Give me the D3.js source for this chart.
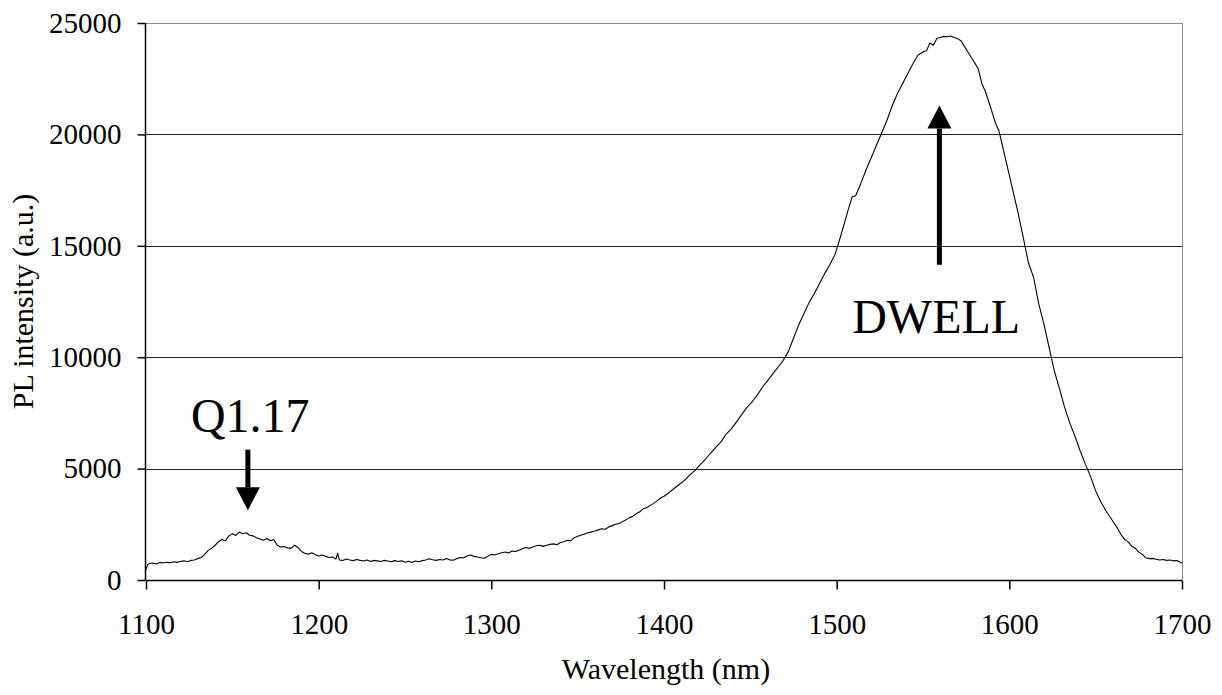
<!DOCTYPE html>
<html>
<head>
<meta charset="utf-8">
<script src="https://cdn.jsdelivr.net/npm/d3@7/dist/d3.min.js"></script>
</head>
<body style="margin:0">
<svg id="chart" width="1222" height="695" font-family="'Liberation Serif'"></svg>
<script>
// ---- data ----
const wavelength = [
  1100,1101,1102,1104,1106,1108,1110,1112,1114,1116,1118,1120,1122,1124,1126,1128,1130,1132,1134,1136,
  1138,1140,1142,1144,1146,1148,1150,1152,1154,1156,1158,1160,1162,1164,1166,1168,1170,1172,1174,1176,
  1178,1180,1182,1184,1186,1188,1190,1192,1194,1196,1198,1200,1202,1204,1206,1208,1210,1211,1212,1214,
  1216,1218,1220,1222,1224,1226,1228,1230,1232,1234,1236,1238,1240,1242,1244,1246,1248,1250,1252,1254,
  1256,1258,1260,1262,1264,1266,1268,1270,1272,1274,1276,1278,1280,1282,1284,1286,1288,1290,1292,1294,
  1296,1298,1300,1302,1304,1306,1308,1310,1312,1314,1316,1318,1320,1322,1324,1326,1328,1330,1332,1334,
  1336,1338,1340,1342,1344,1346,1348,1350,1352,1354,1356,1358,1360,1362,1364,1366,1368,1370,1372,1374,
  1376,1378,1380,1382,1384,1386,1388,1390,1392,1394,1396,1398,1400,1403,1406,1409,1412,1415,1418,1421,
  1424,1427,1430,1433,1436,1439,1442,1445,1448,1451,1454,1457,1460,1463,1466,1469,1472,1475,1478,1481,
  1484,1487,1490,1493,1496,1499,1502,1505,1507,1509,1511,1514,1517,1520,1523,1526,1529,1532,1535,1538,
  1541,1544,1547,1550,1552,1554,1556,1558,1560,1562,1564,1566,1568,1570,1572,1574,1576,1578,1580,1582,
  1584,1586,1588,1590,1592,1594,1596,1599,1602,1605,1608,1611,1614,1617,1620,1623,1626,1629,1632,1635,
  1638,1641,1644,1647,1650,1653,1656,1659,1662,1665,1667,1669,1671,1673,1675,1677,1679,1681,1683,1685,
  1687,1689,1691,1693,1695,1697,1699,1700
];
const intensity = [
  480,690,740,760,720,790,760,800,770,820,790,830,860,820,880,900,960,1010,1150,1330,
  1420,1560,1720,1820,1760,1980,2080,2000,2150,2080,2120,2010,1980,1900,1840,1780,1860,1760,1820,1560,
  1480,1500,1440,1420,1560,1460,1280,1200,1160,1220,1140,1080,1120,1060,1010,1030,940,1200,900,880,
  940,900,870,920,880,850,900,830,880,860,830,880,850,820,870,830,860,800,840,790,
  850,820,870,900,950,910,880,920,900,960,900,890,960,1010,1000,1080,1120,1060,1030,1000,
  980,1070,1150,1120,1180,1220,1260,1210,1300,1280,1340,1400,1460,1420,1480,1540,1560,1510,1560,1600,
  1620,1580,1680,1720,1780,1760,1900,1960,2020,2060,2120,2160,2200,2250,2300,2280,2380,2440,2500,2540,
  2620,2700,2800,2860,2980,3060,3200,3240,3350,3440,3550,3680,3760,3930,4120,4300,4480,4720,4920,5180,
  5420,5700,5950,6200,6550,6780,7100,7420,7750,8000,8300,8650,8950,9250,9550,9850,10250,10850,11450,11950,
  12450,12850,13300,13750,14150,14600,15350,16150,16700,17200,17250,17800,18400,18950,19500,20050,20600,21250,21800,22250,
  22700,23150,23550,23700,23750,24100,24000,24300,24350,24400,24380,24420,24350,24300,24200,23950,23700,23450,23200,22950,
  22300,21950,21500,21000,20500,20150,19500,18500,17500,16500,15400,14250,13600,12400,11500,10450,9400,8600,7750,7050,
  6450,5800,5200,4650,4000,3500,3100,2750,2400,2000,1800,1700,1500,1420,1250,1150,1000,960,970,930,
  900,920,880,900,860,870,800,760
];
const xTicks = [1100, 1200, 1300, 1400, 1500, 1600, 1700];
const yTicks = [0, 5000, 10000, 15000, 20000, 25000];
const xTitle = "Wavelength (nm)";
const yTitle = "PL intensity (a.u.)";
const labels = ["Q1.17", "DWELL"];

// ---- layout ----
const FONT = '"Liberation Serif"';
const svg = d3.select("#chart");
const m = { left: 146, right: 1182, top: 23, bottom: 580 };
const x = d3.scaleLinear().domain([1100, 1700]).range([m.left, m.right]);
const y = d3.scaleLinear().domain([0, 25000]).range([m.bottom, m.top]);

// gridlines
svg.append("g")
  .selectAll("line")
  .data(yTicks.filter(d => d > 0 && d < 25000))
  .join("line")
  .attr("x1", m.left).attr("x2", m.right)
  .attr("y1", d => Math.round(y(d)) + 0.5).attr("y2", d => Math.round(y(d)) + 0.5)
  .attr("stroke", "#222").attr("stroke-width", 1);

// plot frame top/right (gray)
svg.append("line").attr("x1", m.left).attr("x2", m.right + 0.5)
  .attr("y1", m.top + 0.5).attr("y2", m.top + 0.5).attr("stroke", "#888");
svg.append("line").attr("x1", m.right + 0.5).attr("x2", m.right + 0.5)
  .attr("y1", m.top).attr("y2", m.bottom).attr("stroke", "#888");

// axes
const xAxis = d3.axisBottom(x).tickValues(xTicks).tickSize(9).tickPadding(24).tickFormat(d3.format("d"));
const yAxis = d3.axisLeft(y).tickValues(yTicks).tickSize(8).tickPadding(16).tickFormat(d3.format("d"));

const gx = svg.append("g").attr("transform", `translate(0,${m.bottom + 0.5})`).call(xAxis);
const gy = svg.append("g").attr("transform", `translate(${m.left - 0.5},0)`).call(yAxis);
[gx, gy].forEach(g => {
  g.attr("font-family", "'Liberation Serif'").attr("font-size", 29);
  g.selectAll(".domain").attr("stroke", "#000").attr("stroke-width", 1.5);
  g.selectAll(".tick line").attr("stroke", "#000").attr("stroke-width", 1.5);
  g.selectAll("text").style("font-family", FONT).style("font-size", "29px").attr("fill", "#000");
});
gx.select(".domain").attr("d", `M${m.left},0H${m.right}`);
gy.select(".domain").attr("d", `M0,${m.top}V${m.bottom}`);

// curve
const pts = wavelength.map((w, i) => [w, intensity[i]]);
svg.append("path")
  .datum(pts)
  .attr("fill", "none")
  .attr("stroke", "#000")
  .attr("stroke-width", 1.1)
  .attr("stroke-linejoin", "round")
  .attr("d", d3.line().x(d => x(d[0])).y(d => y(d[1])));

// axis titles
svg.append("text")
  .attr("x", 666).attr("y", 679)
  .attr("text-anchor", "middle")
  .style("font-family", FONT).style("font-size", "30px")
  .text(xTitle);
svg.append("text")
  .attr("transform", `translate(33,${(m.top + m.bottom) / 2}) rotate(-90)`)
  .attr("text-anchor", "middle")
  .style("font-family", FONT).style("font-size", "30px")
  .text(yTitle);

// annotations
function arrow(wl, fromV, toV) {
  const ax = x(wl);
  const y0 = y(fromV), y1 = y(toV);
  const dir = y1 > y0 ? 1 : -1;
  const headLen = 23, headHalf = 12;
  const yBase = y1 - dir * headLen;
  svg.append("line").attr("x1", ax).attr("x2", ax).attr("y1", y0).attr("y2", yBase)
    .attr("stroke", "#000").attr("stroke-width", 5);
  svg.append("path")
    .attr("d", `M${ax - headHalf},${yBase}L${ax + headHalf},${yBase}L${ax},${y1}Z`)
    .attr("fill", "#000");
}
arrow(1159, 5850, 3130);
arrow(1559.5, 14150, 21300);

svg.append("text").attr("x", x(1126)).attr("y", 432)
  .style("font-family", FONT).style("font-size", "48px").text(labels[0]);
svg.append("text").attr("x", x(1509)).attr("y", 333)
  .style("font-family", FONT).style("font-size", "48px").text(labels[1]);
</script>
</body>
</html>
